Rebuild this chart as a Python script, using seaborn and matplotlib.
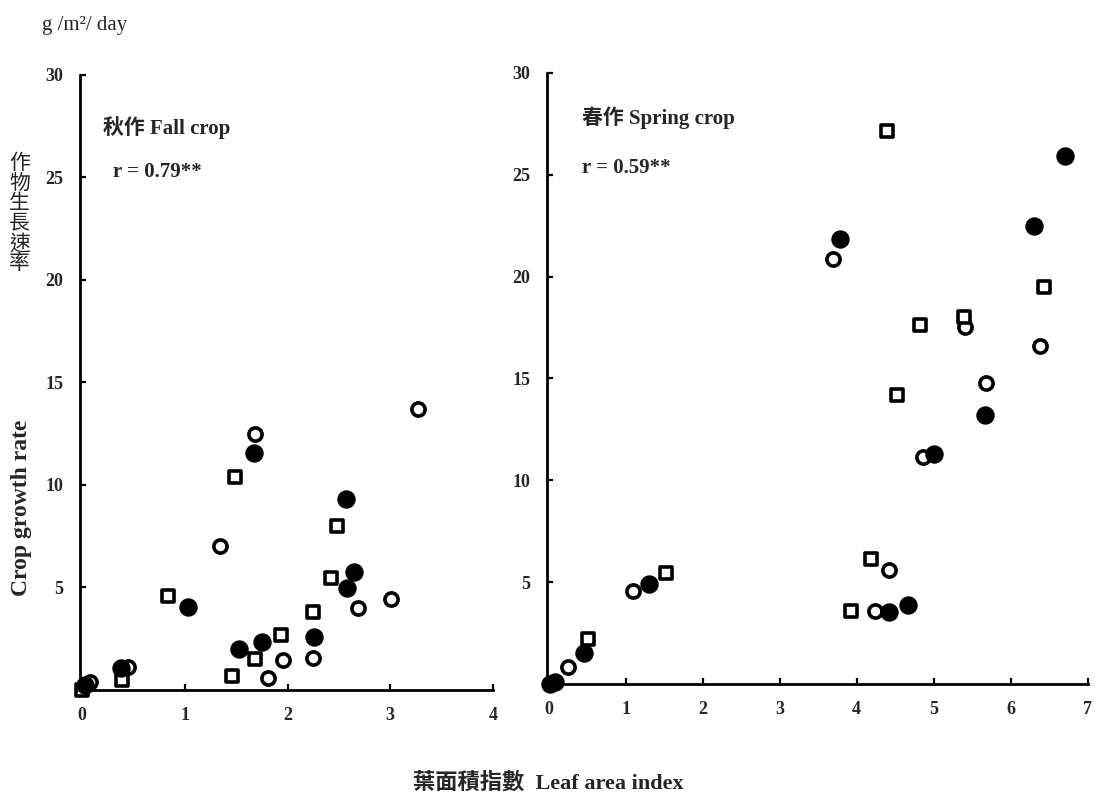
import matplotlib
matplotlib.use("Agg")
import matplotlib.pyplot as plt
import seaborn as sns
import pandas as pd

# ---------------- data ----------------
# Fall crop (秋作)
fall_filled_lai = [0.03, 0.38, 1.03, 1.67, 1.53, 1.75, 2.26, 2.57, 2.65, 2.58]
fall_filled_cgr = [0.25, 1.05, 4.06, 11.58, 1.98, 2.36, 2.57, 9.3, 5.77, 4.96]
fall_open_lai = [0.08, 0.45, 1.68, 1.34, 1.81, 1.96, 2.25, 2.69, 3.01, 3.27]
fall_open_cgr = [0.4, 1.1, 12.47, 7.02, 0.6, 1.46, 1.58, 3.98, 4.42, 13.7]
fall_square_lai = [0.0, 0.39, 0.84, 1.49, 1.46, 1.68, 1.94, 2.25, 2.42, 2.48]
fall_square_cgr = [0.0, 0.49, 4.6, 10.4, 0.68, 1.5, 2.68, 3.82, 5.45, 8.0]

# Spring crop (春作)
spring_filled_lai = [0.02, 0.08, 0.46, 1.30, 4.42, 4.67, 5.0, 5.67, 3.79, 6.30, 6.71]
spring_filled_cgr = [0.0, 0.1, 1.5, 4.93, 3.52, 3.87, 11.3, 13.2, 21.84, 22.5, 25.9]
spring_open_lai = [0.25, 1.10, 4.24, 4.42, 4.86, 5.68, 3.69, 5.41, 6.38]
spring_open_cgr = [0.82, 4.57, 3.6, 5.62, 11.17, 14.77, 20.86, 17.52, 16.6]
spring_square_lai = [0.51, 1.52, 3.93, 4.19, 4.52, 4.40, 4.82, 5.39, 6.43]
spring_square_cgr = [2.22, 5.46, 3.6, 6.15, 14.2, 27.15, 17.65, 18.04, 19.48]

fall_xticks = [0, 1, 2, 3, 4]
spring_xticks = [0, 1, 2, 3, 4, 5, 6, 7]
fall_yticks = [5, 10, 15, 20, 25, 30]
spring_yticks = [5, 10, 15, 20, 25, 30]


def frame(lai, cgr, kind):
    return pd.DataFrame({"lai": lai, "cgr": cgr, "kind": kind})


fall_df = pd.concat([
    frame(fall_filled_lai, fall_filled_cgr, "filled"),
    frame(fall_open_lai, fall_open_cgr, "open"),
    frame(fall_square_lai, fall_square_cgr, "square"),
])
spring_df = pd.concat([
    frame(spring_filled_lai, spring_filled_cgr, "filled"),
    frame(spring_open_lai, spring_open_cgr, "open"),
    frame(spring_square_lai, spring_square_cgr, "square"),
])

# ---------------- style ----------------
sns.set_theme(style="white")
SERIF = ["Liberation Serif", "DejaVu Serif"]
CJK = ["Liberation Serif", "Noto Sans CJK TC", "DejaVu Sans"]
plt.rcParams["font.family"] = CJK

fig = plt.figure(figsize=(10.97, 7.95), dpi=100)
ax1 = fig.add_axes([0.0729, 0.1321, 0.3765, 0.7736])
ax2 = fig.add_axes([0.4986, 0.1396, 0.4930, 0.7686])


def draw(ax, df):
    sub = df[df.kind == "filled"]
    sns.scatterplot(data=sub, x="lai", y="cgr", ax=ax, marker="o", s=150,
                    color="black", edgecolor="black", linewidth=1, clip_on=False, zorder=5)
    sub = df[df.kind == "open"]
    sns.scatterplot(data=sub, x="lai", y="cgr", ax=ax, marker="o", s=90,
                    facecolor="white", edgecolor="black", linewidth=2.6, clip_on=False, zorder=4)
    sub = df[df.kind == "square"]
    sns.scatterplot(data=sub, x="lai", y="cgr", ax=ax, marker="s", s=80,
                    facecolor="white", edgecolor="black", linewidth=2.6, clip_on=False, zorder=4)


draw(ax1, fall_df)
draw(ax2, spring_df)

for ax, xt, yt, xmax in [(ax1, fall_xticks, fall_yticks, 4.0), (ax2, spring_xticks, spring_yticks, 7.0)]:
    ax.set_xlim(-0.02, xmax)
    ax.set_ylim(0, 30)
    ax.set_xticks(xt)
    ax.set_yticks(yt)
    ax.set_xlabel("")
    ax.set_ylabel("")
    for side in ["top", "right"]:
        ax.spines[side].set_visible(False)
    for side in ["left", "bottom"]:
        ax.spines[side].set_color("black")
        ax.spines[side].set_linewidth(2.0)
    ax.tick_params(axis="both", direction="in", length=4, width=1.6, color="black",
                   labelsize=13, pad=12, left=True, bottom=True)
    for lab in ax.get_xticklabels() + ax.get_yticklabels():
        lab.set_fontfamily(SERIF)
        lab.set_fontweight("bold")
    ax.set_facecolor("white")

# panel annotations
fig.text(0.0939, 0.839, "秋作 Fall crop", fontsize=15, fontweight="bold", family=CJK,
         ha="left", va="center")
fig.text(0.103, 0.784, "r = 0.79**", fontsize=15, fontweight="bold", family=CJK,
         ha="left", va="center")
fig.text(0.5305, 0.8516, "春作 Spring crop", fontsize=15, fontweight="bold", family=CJK,
         ha="left", va="center")
fig.text(0.5305, 0.789, "r = 0.59**", fontsize=15, fontweight="bold", family=CJK,
         ha="left", va="center")

# unit label
fig.text(0.038, 0.968, "g /m²/ day", fontsize=15, family=SERIF, ha="left", va="center")

# y axis labels
fig.text(0.018, 0.73, "作\n物\n生\n長\n速\n率", fontsize=15, family=CJK,
         ha="center", va="center", linespacing=1.05)
fig.text(0.020, 0.361, "Crop growth rate", fontsize=17, fontweight="bold", family=SERIF,
         rotation=90, ha="center", va="center")

# x axis label
fig.text(0.50, 0.015, "葉面積指數  Leaf area index", fontsize=16, fontweight="bold", family=CJK,
         ha="center", va="center")

fig.savefig("out.png", dpi=100, facecolor="white")
